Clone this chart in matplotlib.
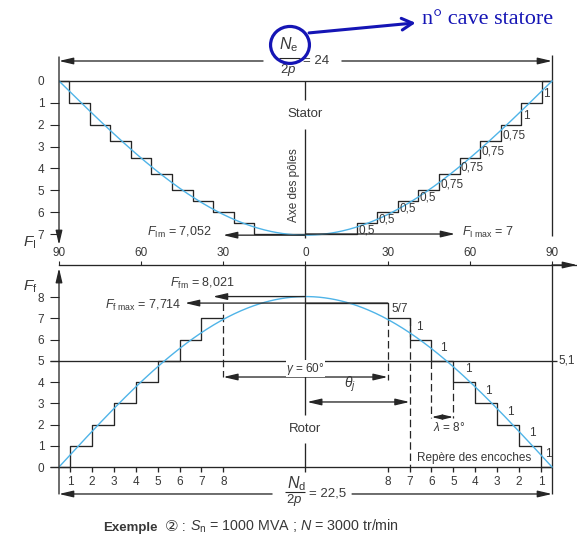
import numpy as np
import matplotlib
matplotlib.use('Agg')
import matplotlib.pyplot as plt
from matplotlib.patches import Ellipse

plt.rcParams['font.family'] = ['Liberation Sans', 'DejaVu Sans', 'Noto Sans CJK JP']
plt.rcParams['mathtext.fontset'] = 'custom'
plt.rcParams['mathtext.rm'] = 'Liberation Sans'
plt.rcParams['mathtext.it'] = 'Liberation Sans:italic'
plt.rcParams['mathtext.bf'] = 'Liberation Sans:bold'

# ---------------- data ----------------
angle_ticks = [-90, -60, -30, 0, 30, 60, 90]
angle_tick_labels = ['90', '60', '30', '0', '30', '60', '90']

stator_yticks = [0, 1, 2, 3, 4, 5, 6, 7]
stator_step_angles = [18.75, 26.25, 33.75, 41.25, 48.75, 56.25, 63.75, 71.25, 78.75, 86.25]
stator_step_heights = [0.5, 0.5, 0.5, 0.5, 0.75, 0.75, 0.75, 0.75, 1, 1]
stator_step_labels = ['0,5', '0,5', '0,5', '0,5', '0,75', '0,75', '0,75', '0,75', '1', '1']
F_I_max = 7
F_Im = 7.052
Ne_2p = '24'

rotor_yticks = [0, 1, 2, 3, 4, 5, 6, 7, 8]
rotor_slot_angles = [30, 38, 46, 54, 62, 70, 78, 86]
rotor_slot_numbers = ['8', '7', '6', '5', '4', '3', '2', '1']
rotor_step_heights = [5 / 7, 1, 1, 1, 1, 1, 1, 1]
rotor_step_labels = ['5/7', '1', '1', '1', '1', '1', '1', '1']
F_f_max = 7.714
F_fm = 8.021
Nd_2p = '22,5'
ref_level = 5
ref_level_label = '5,1'

# ---------------- styling ----------------
LC = '#262626'
TC = '#383838'
BLUE = '#4fb4e8'
ANN = '#1515b5'
LW = 0.95
FS = 8.5
rotor_label_dx = [1.5, 2.4, 3.1, 4.4, 3.5, 3.5, 3.5, 1.5]

W, H = 577, 537
fig = plt.figure(figsize=(W / 100, H / 100), dpi=100)

X_LEFT, X_RIGHT = -90.0, 99.13
ax_s = fig.add_axes([59 / W, 1 - 250 / H, 518 / W, 220 / H])
ax_r = fig.add_axes([59 / W, 0, 518 / W, 272 / H])
ax_s.set_xlim(X_LEFT, X_RIGHT)
ax_r.set_xlim(X_LEFT, X_RIGHT)
ax_s.set_ylim(7.731, -2.333)
ax_r.set_ylim(-3.294, 9.506)

for ax in (ax_s, ax_r):
    ax.patch.set_visible(False)
    for s in ax.spines.values():
        s.set_visible(False)
    ax.tick_params(axis='y', direction='out', length=6.5, width=0.8, color=LC,
                   labelsize=FS, labelcolor=TC, pad=4)
    ax.set_yticks([])

ax_s.set_xticks([])
ax_s.set_yticks(stator_yticks)
ax_s.set_yticklabels([str(v) for v in stator_yticks])
ax_s.yaxis.get_major_ticks()[0].tick1line.set_visible(False)

ax_r.set_yticks(rotor_yticks)
ax_r.set_yticklabels([str(v) for v in rotor_yticks])
ax_r.spines['top'].set_visible(True)
ax_r.spines['top'].set_color(LC)
ax_r.spines['top'].set_linewidth(LW)
ax_r.xaxis.set_ticks_position('top')
ax_r.xaxis.set_label_position('top')
ax_r.set_xticks(angle_ticks)
ax_r.set_xticklabels(angle_tick_labels)
ax_r.tick_params(axis='x', direction='out', length=3, width=0.8, color=LC,
                 labelsize=FS, labelcolor=TC, pad=1.5)


def arrow(ax, start, end, style='-|>', lw=LW, color=LC, ms=10):
    ax.annotate('', xy=end, xytext=start, annotation_clip=False,
                arrowprops=dict(arrowstyle=style + ',head_length=0.85,head_width=0.2',
                                mutation_scale=ms, lw=lw, color=color,
                                shrinkA=0, shrinkB=0))


def line(ax, xs, ys, **kw):
    d = dict(color=LC, lw=LW, clip_on=False, solid_capstyle='butt')
    d.update(kw)
    ax.plot(xs, ys, **d)


def stair(angles, heights, top):
    xs, ys, lvl = [0.0], [top], top
    for a, h in zip(angles, heights):
        xs += [a, a]
        ys += [lvl, lvl - h]
        lvl -= h
    xs.append(90.0)
    ys.append(lvl)
    return xs, ys


def text(ax, x, y, s, **kw):
    d = dict(color=TC, fontsize=FS, ha='center', va='center')
    d.update(kw)
    return ax.text(x, y, s, **d)


# ================= STATOR =================
th = np.linspace(-90, 90, 361)
sx, sy = stair(stator_step_angles, stator_step_heights, F_I_max)
full_x = [-x for x in sx[::-1]] + sx
full_y = sy[::-1] + sy
line(ax_s, full_x, full_y)
line(ax_s, [-90, 90], [0, 0])
ax_s.plot(th, F_Im * np.cos(np.radians(th)), color=BLUE, lw=1.0, zorder=3)

for a, hgt, lab, lvl in zip(stator_step_angles, stator_step_heights, stator_step_labels,
                            np.cumsum(stator_step_heights)):
    mid = F_I_max - lvl + hgt / 2 + 0.1
    text(ax_s, a + 0.5, mid, lab, ha='left')

# axes lines
arrow(ax_s, (-90, -1.1), (-90, 7.5))
line(ax_s, [90, 90], [-1.19, 7.09])
arrow(ax_s, (-15.5, -0.915), (-90, -0.915))
arrow(ax_s, (13.3, -0.915), (90, -0.915))
text(ax_s, -100.8, 7.41, r'$F_\mathrm{I}$', fontsize=11)

# pole axis
line(ax_s, [0, 0], [0, 0.87])
line(ax_s, [0, 0], [2.2, 7.18])
text(ax_s, 0, 1.51, 'Stator', fontsize=9.5)
text(ax_s, -4.2, 4.76, 'Axe des pôles', rotation=90, fontsize=8.5)

arrow(ax_s, (0, F_Im), (-30.1, F_Im))
text(ax_s, -34.1, 6.95, r'$F_{\mathrm{Im}}$ = 7,052', ha='right', fontsize=9)
arrow(ax_s, (0, F_I_max), (54.6, F_I_max))
text(ax_s, 57.1, 6.95, r'$F_{\mathrm{I\ max}}$ = 7', ha='left', fontsize=9)

# Ne / 2p = 24
text(ax_s, -6.0, -1.68, r'$N_{\mathrm{e}}$', fontsize=11.5)
line(ax_s, [-9.5, -2.0], [-1.05, -1.05], lw=0.8)
text(ax_s, -6.2, -0.52, r'$2p$', fontsize=9.5)
text(ax_s, -0.9, -0.915, '= ' + Ne_2p, ha='left', fontsize=9.5)

# annotation circle + arrow
circ = Ellipse((-5.66, -1.65), 14.2, 1.69, fill=False, ec=ANN, lw=2.3, clip_on=False, zorder=5)
ax_s.add_patch(circ)
ax_s.annotate('', xy=(40.2, -2.66), xytext=(1.3, -2.2), annotation_clip=False,
              arrowprops=dict(arrowstyle='->,head_length=0.55,head_width=0.3',
                              mutation_scale=14, lw=2.2, color=ANN,
                              shrinkA=0, shrinkB=0))
text(ax_s, 42.6, -2.82, 'n° cave statore', ha='left', color=ANN,
     fontsize=16, family='Liberation Serif')

# ================= ROTOR =================
rx, ry = stair(rotor_slot_angles, rotor_step_heights, F_f_max)
lx = [-x for x in rx[::-1]]
ly = ry[::-1]
line(ax_r, lx[:-2], ly[:-2])
line(ax_r, rx, ry)
ax_r.plot(th, F_fm * np.cos(np.radians(th)), color=BLUE, lw=1.0, zorder=3)

for a, hgt, lab, lvl, dx in zip(rotor_slot_angles, rotor_step_heights, rotor_step_labels,
                                np.cumsum(rotor_step_heights), rotor_label_dx):
    mid = F_f_max - lvl + hgt / 2 + 0.1
    text(ax_r, a + dx, mid, lab, ha='left')

# baseline, reference line, slot marks
line(ax_r, [-93.3, 90], [0, 0])
line(ax_r, [-93.3, 91.8], [ref_level, ref_level])
text(ax_r, 95.5, ref_level, ref_level_label)
for a, n in zip(rotor_slot_angles, rotor_slot_numbers):
    for sgn in (-1, 1):
        line(ax_r, [sgn * a, sgn * a], [0, -0.25])
        text(ax_r, sgn * a, -0.72, n)

# axes lines
arrow(ax_r, (-90, -1.27), (-90, 9.36))
line(ax_r, [90, 90], [-1.27, 9.506])
arrow(ax_r, (90, 9.506), (X_RIGHT, 9.506))
arrow(ax_r, (-12.2, -1.27), (-90, -1.27))
arrow(ax_r, (17.0, -1.27), (90, -1.27))
text(ax_r, -100.6, 8.47, r'$F_\mathrm{f}$', fontsize=11)

# Nd / 2p = 22,5
text(ax_r, -3.3, -0.78, r'$N_{\mathrm{d}}$', fontsize=11.5)
line(ax_r, [-7.5, 0.0], [-1.18, -1.18], lw=0.8)
text(ax_r, -4.2, -1.55, r'$2p$', fontsize=9.5)
text(ax_r, 1.4, -1.27, '= ' + Nd_2p, ha='left', fontsize=9.5)

# pole axis
line(ax_r, [0, 0], [9.506, 2.45])
line(ax_r, [0, 0], [1.13, -0.235])
text(ax_r, 0, 1.79, 'Rotor', fontsize=9.5)

# Ff max, Ffm
arrow(ax_r, (30, F_f_max), (-44.0, F_f_max))
text(ax_r, -45.4, 7.62, r'$F_{\mathrm{f\ max}}$ = 7,714', ha='right', fontsize=9)
arrow(ax_r, (0, F_fm), (-33.8, F_fm))
text(ax_r, -37.8, 8.66, r'$F_{\mathrm{fm}}$ = 8,021', fontsize=9)

# dashed construction lines
DASH = dict(ls=(0, (6, 3)), lw=0.9)
line(ax_r, [-30, -30], [F_f_max, 4.235], **DASH)
line(ax_r, [30, 30], [7, 4.09], **DASH)
line(ax_r, [38, 38], [7, 0], **DASH)
line(ax_r, [46, 46], [5, 2.3], **DASH)
line(ax_r, [54, 54], [4, 2.3], **DASH)

arrow(ax_r, (-30, 4.235), (30, 4.235), style='<|-|>')
text(ax_r, 0, 4.62, r'$\gamma$ = 60°', fontsize=8.5,
     bbox=dict(facecolor='white', edgecolor='none', pad=0.3))
arrow(ax_r, (0.6, 3.06), (38, 3.06), style='<|-|>')
text(ax_r, 16.2, 3.9, r'$\theta_j$', fontsize=10)
arrow(ax_r, (46, 2.35), (54, 2.35), style='<|-|>', ms=7)
text(ax_r, 52.4, 1.84, r'$\lambda$ = 8°', fontsize=8.5)
text(ax_r, 61.5, 0.42, 'Repère des encoches', fontsize=8.5)

# caption, built from consecutive pieces on one baseline
renderer = fig.canvas.get_renderer()
cap_parts = [
    ('Exemple', dict(weight='bold', fontsize=9.5)),
    ('  ', dict(fontsize=9.5)),
    ('②', dict(family=['DejaVu Sans', 'Noto Sans CJK JP'], fontsize=11)),
    (' : ', dict(fontsize=10)),
    (r'$S_{\mathrm{n}}$ = 1000 MVA ; $N$ = 3000 tr/min', dict(fontsize=10.3)),
]
cx, cy = 103 / W, 1 - 531 / H
for s, kw in cap_parts:
    t = fig.text(cx, cy, s, color=TC, ha='left', va='baseline', **kw)
    bb = t.get_window_extent(renderer)
    cx = bb.x1 / fig.bbox.width

fig.savefig('out.png', dpi=100)
